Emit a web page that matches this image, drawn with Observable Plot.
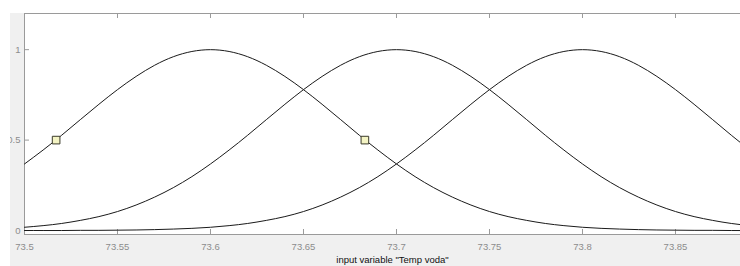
<!DOCTYPE html>
<html>
<head>
<meta charset="utf-8">
<script src="https://cdn.jsdelivr.net/npm/d3@7"></script>
<script src="https://cdn.jsdelivr.net/npm/@observablehq/plot@0.6"></script>
<style>
  html, body { margin: 0; padding: 0; background: #ffffff; }
  #clip { position: absolute; left: 10px; top: 13px; width: 730px; height: 253px; overflow: hidden; background: #f0f0f0; }
  #chart { position: absolute; left: -10px; top: -13px; width: 760px; }
</style>
</head>
<body>
<div id="clip"><div id="chart"></div></div>
<script>
// Sample positions along the input variable "Temp voda"
const xs = [73.50, 73.51, 73.52, 73.53, 73.54, 73.55, 73.56, 73.57, 73.58, 73.59,
            73.60, 73.61, 73.62, 73.63, 73.64, 73.65, 73.66, 73.67, 73.68, 73.69,
            73.70, 73.71, 73.72, 73.73, 73.74, 73.75, 73.76, 73.77, 73.78, 73.79,
            73.80, 73.81, 73.82, 73.83, 73.84, 73.85, 73.86, 73.87, 73.88, 73.89];

// Membership function 1 (peak at 73.6)
const mf1 = [0.368, 0.445, 0.527, 0.613, 0.698, 0.779, 0.852, 0.914, 0.961, 0.990,
             1.000, 0.990, 0.961, 0.914, 0.852, 0.779, 0.698, 0.613, 0.527, 0.445,
             0.368, 0.298, 0.237, 0.185, 0.141, 0.105, 0.077, 0.056, 0.039, 0.027,
             0.018, 0.012, 0.008, 0.005, 0.003, 0.002, 0.001, 0.001, 0.000, 0.000];

// Membership function 2 (peak at 73.7)
const mf2 = [0.018, 0.027, 0.039, 0.056, 0.077, 0.105, 0.141, 0.185, 0.237, 0.298,
             0.368, 0.445, 0.527, 0.613, 0.698, 0.779, 0.852, 0.914, 0.961, 0.990,
             1.000, 0.990, 0.961, 0.914, 0.852, 0.779, 0.698, 0.613, 0.527, 0.445,
             0.368, 0.298, 0.237, 0.185, 0.141, 0.105, 0.077, 0.056, 0.039, 0.027];

// Membership function 3 (peak at 73.8)
const mf3 = [0.000, 0.000, 0.000, 0.001, 0.001, 0.002, 0.003, 0.005, 0.008, 0.012,
             0.018, 0.027, 0.039, 0.056, 0.077, 0.105, 0.141, 0.185, 0.237, 0.298,
             0.368, 0.445, 0.527, 0.613, 0.698, 0.779, 0.852, 0.914, 0.961, 0.990,
             1.000, 0.990, 0.961, 0.914, 0.852, 0.779, 0.698, 0.613, 0.527, 0.445];

// Square markers
const markerX = [73.517, 73.683];
const markerY = [0.5, 0.5];

// Ticks
const xTicks = [73.5, 73.55, 73.6, 73.65, 73.7, 73.75, 73.8, 73.85];
const xTickLabels = ["73.5", "73.55", "73.6", "73.65", "73.7", "73.75", "73.8", "73.85"];
const yTicks = [0, 0.5, 1];
const yTickLabels = ["0", "0.5", "1"];

const xLabel = 'input variable "Temp voda"';

const series = [mf1, mf2, mf3].flatMap((ys, k) => xs.map((x, i) => ({x, y: ys[i], mf: k})));
const markers = markerX.map((x, i) => ({x, y: markerY[i]}));

const axisColor = "#9a9a9a";
const font = "'Liberation Sans', Arial, sans-serif";

const chart = Plot.plot({
  width: 760,
  height: 266,
  marginLeft: 24,
  marginRight: 0,
  marginTop: 13,
  marginBottom: 32,
  style: {background: "transparent", fontFamily: font, fontSize: "9.5px", maxWidth: "none", overflow: "visible"},
  x: {domain: [73.5, 73.8957], axis: null},
  y: {domain: [-0.022, 1.2], axis: null},
  marks: [
    Plot.frame({fill: "white", stroke: axisColor}),
    // inward ticks
    Plot.tickX(xTicks, {x: d => d, stroke: axisColor, insetTop: 216}),
    Plot.tickX(xTicks, {x: d => d, stroke: axisColor, insetBottom: 216}),
    Plot.tickY(yTicks, {y: d => d, stroke: axisColor, insetRight: 731}),
    // tick labels
    Plot.axisX({ticks: xTicks, tickSize: 0, tickPadding: 9, tickFormat: d => xTickLabels[xTicks.indexOf(d)], color: "#8c8c8c", label: null, fontSize: 9.5}),
    Plot.axisY({ticks: yTicks, tickSize: 0, tickPadding: 4, tickFormat: d => yTickLabels[yTicks.indexOf(d)], color: "#8c8c8c", label: null, fontSize: 9.5}),
    // curves
    Plot.line(series, {x: "x", y: "y", z: "mf", stroke: "#1a1a1a", strokeWidth: 1, curve: "natural", clip: true}),
    // markers
    Plot.dot(markers, {x: "x", y: "y", symbol: "square", r: 4.3, fill: "#f4f4c4", stroke: "#3a3a2a", strokeWidth: 1}),
    // x label
    Plot.text([xLabel], {frameAnchor: "bottom", dy: 28, fill: "#111", fontSize: 9.5})
  ]
});
document.getElementById("chart").appendChild(chart);
</script>
</body>
</html>
